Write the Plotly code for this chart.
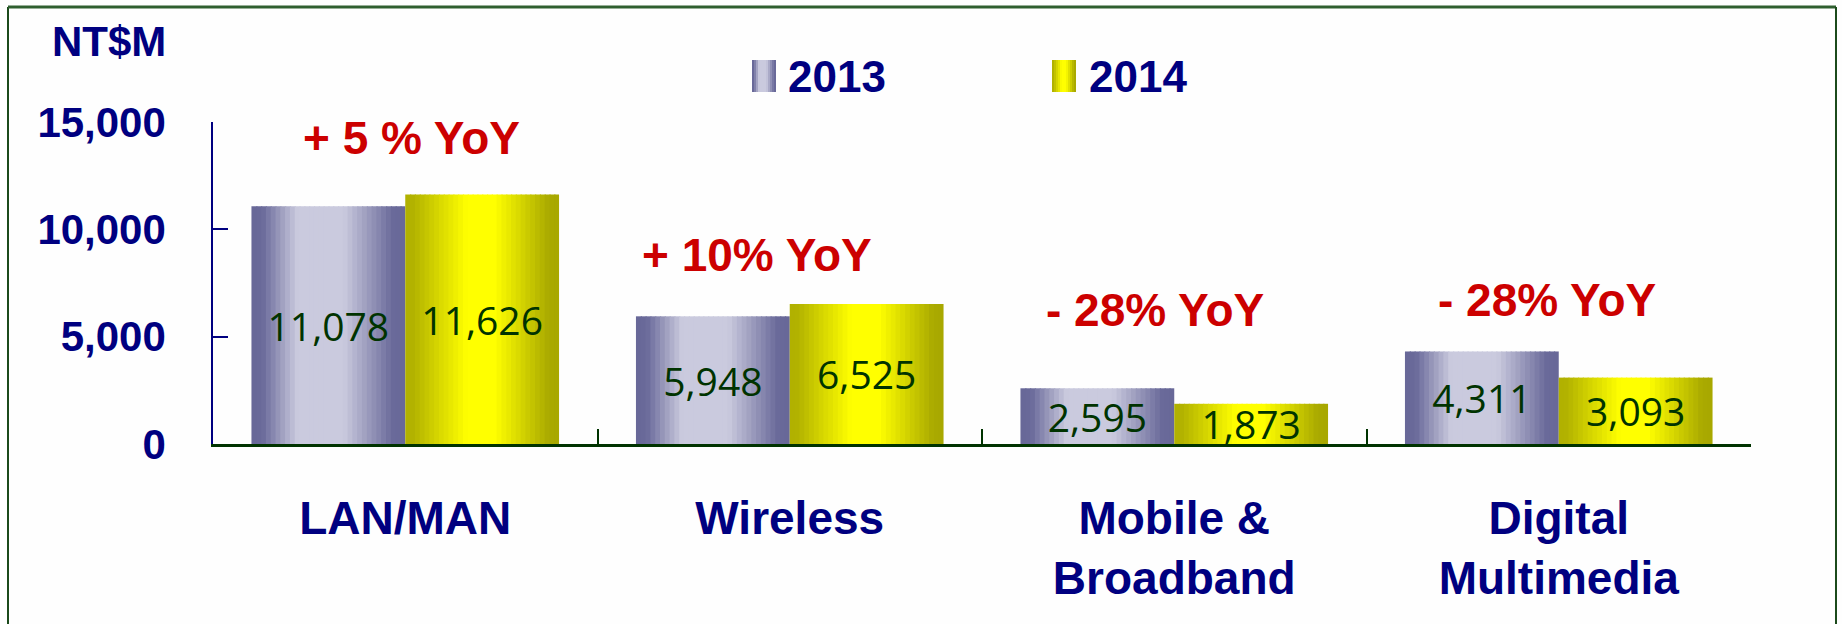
import plotly.graph_objects as go

# ---------------- data ----------------
categories = ["LAN/MAN", "Wireless", "Mobile &<br>Broadband", "Digital<br>Multimedia"]
series_names = ["2013", "2014"]
values_2013 = [11078, 5948, 2595, 4311]
values_2014 = [11626, 6525, 1873, 3093]
yoy_labels = ["+ 5 % YoY", "+ 10% YoY", "- 28% YoY", "- 28% YoY"]
y_tick_values = [0, 5000, 10000, 15000]
y_tick_labels = ["0", "5,000", "10,000", "15,000"]
unit_label = "NT$M"

# ---------------- styles ----------------
W, H = 1842, 624
ML, MR, MT, MB = 213, 91, 122, 180
NAVY = "#000080"
DGREEN = "#003300"
RED = "#CC0000"
BOLD_FONT = "Arial, Liberation Sans, sans-serif"
LABEL_FONT = "Open Sans, Noto Sans, sans-serif"

grad_2013 = [(0.0, (104, 104, 152)), (0.07, (106, 106, 154)), (0.30, (202, 202, 222)),
             (0.60, (202, 202, 222)), (0.92, (106, 106, 154)), (1.0, (104, 104, 152))]
grad_2014 = [(0.0, (176, 176, 0)), (0.05, (178, 178, 0)), (0.40, (255, 255, 0)),
             (0.58, (255, 255, 0)), (0.93, (170, 170, 0)), (1.0, (168, 168, 0))]


def grad_color(stops, t):
    for (t0, c0), (t1, c1) in zip(stops[:-1], stops[1:]):
        if t0 <= t <= t1:
            f = 0 if t1 == t0 else (t - t0) / (t1 - t0)
            c = [round(a + (b - a) * f) for a, b in zip(c0, c1)]
            return "rgb(%d,%d,%d)" % tuple(c)
    return "rgb(%d,%d,%d)" % stops[-1][1]


BAR_W = 0.4      # width of each bar in category units
N_STRIPS = 32    # strips used to imitate the horizontal gradient

fig = go.Figure()
x_idx = list(range(len(categories)))

series = [(series_names[0], values_2013, grad_2013, -BAR_W),
          (series_names[1], values_2014, grad_2014, 0.0)]

for name, vals, stops, base_off in series:
    step = BAR_W / N_STRIPS
    for i in range(N_STRIPS):
        t = (i + 0.5) / N_STRIPS
        w = step * 1.25 if i < N_STRIPS - 1 else step
        fig.add_trace(go.Bar(
            x=x_idx, y=vals, offset=base_off + i * step, width=w,
            marker=dict(color=grad_color(stops, t), line=dict(width=0)),
            showlegend=False, hoverinfo="skip", name=name,
        ))
    # full-width transparent bar carrying the value labels
    fig.add_trace(go.Bar(
        x=x_idx, y=vals, offset=base_off, width=BAR_W, name=name,
        marker=dict(color="rgba(0,0,0,0)", line=dict(width=0)),
        texttemplate="%{y:,.0f}", textposition="inside", insidetextanchor="middle",
        constraintext="none", cliponaxis=False,
        insidetextfont=dict(family=LABEL_FONT, size=39, color=DGREEN),
        showlegend=False, hovertemplate=name + ": %{y:,.0f}<extra></extra>",
    ))

PW = W - ML - MR
PH = H - MT - MB


def px_x(px):
    return (px - ML) / PW


def px_y(py):
    return (H - MB - py) / PH


shapes = []
# outer frame (left, top, right)
shapes.append(dict(type="line", xref="paper", yref="paper", x0=px_x(8), x1=px_x(8),
                   y0=px_y(7), y1=px_y(H + 5), line=dict(color="#1B4A1B", width=2)))
shapes.append(dict(type="line", xref="paper", yref="paper", x0=px_x(8), x1=px_x(1836),
                   y0=px_y(7), y1=px_y(7), line=dict(color="#2F5F2F", width=3)))
shapes.append(dict(type="line", xref="paper", yref="paper", x0=px_x(1836), x1=px_x(1836),
                   y0=px_y(7), y1=px_y(H + 5), line=dict(color="#1B4A1B", width=2)))

# legend swatches (gradient strips)
legend_items = [(series_names[0], grad_2013, 752, 786), (series_names[1], grad_2014, 1052, 1087)]
annotations = []
for name, stops, sx, tx in legend_items:
    n = 12
    sw = 24
    for i in range(n):
        t = (i + 0.5) / n
        shapes.append(dict(type="rect", xref="paper", yref="paper",
                           x0=px_x(sx + i * sw / n), x1=px_x(sx + (i + 1.3) * sw / n if i < n - 1 else sx + sw),
                           y0=px_y(92), y1=px_y(60), line=dict(width=0),
                           fillcolor=grad_color(stops, t)))
    annotations.append(dict(xref="paper", yref="paper", x=px_x(tx), y=px_y(76),
                            xanchor="left", yanchor="middle", showarrow=False, text=name,
                            font=dict(family=BOLD_FONT, size=44, color=NAVY, weight="bold")))

# unit label
annotations.append(dict(xref="paper", yref="paper", x=px_x(109), y=px_y(41),
                        xanchor="center", yanchor="middle", showarrow=False, text=unit_label,
                        font=dict(family=BOLD_FONT, size=42, color=NAVY, weight="bold")))

# YoY annotations (position offsets are layout, not data)
yoy_pos = [(0.016, 14250), (-0.085, 8800), (-0.05, 6230), (-0.03, 6700)]
for i, (lab, (dx, yy)) in enumerate(zip(yoy_labels, yoy_pos)):
    annotations.append(dict(xref="x", yref="y", x=i + dx, y=yy, xanchor="center",
                            yanchor="middle", showarrow=False, text=lab,
                            font=dict(family=BOLD_FONT, size=46, color=RED, weight="bold")))

fig.update_layout(
    width=W, height=H,
    margin=dict(l=ML, r=MR, t=MT, b=MB, pad=0),
    barmode="overlay",
    bargap=0.2,
    paper_bgcolor="#FEFEFE",
    plot_bgcolor="#FEFEFE",
    showlegend=False,
    shapes=shapes,
    annotations=annotations,
    xaxis=dict(
        type="linear", range=[-0.5, 3.5],
        tickvals=x_idx, ticktext=categories,
        showgrid=False, zeroline=False,
        showline=True, linecolor=DGREEN, linewidth=3,
        ticks="", ticklabelstandoff=32,
        tickfont=dict(family=BOLD_FONT, size=46, color=NAVY, weight="bold"),
        fixedrange=True,
    ),
    yaxis=dict(
        range=[0, 15000], tickvals=y_tick_values, ticktext=y_tick_labels,
        showgrid=False, zeroline=False,
        showline=True, linecolor=NAVY, linewidth=1.5,
        ticks="inside", ticklen=15, tickwidth=1.5, tickcolor=NAVY,
        ticklabelstandoff=37,
        tickfont=dict(family=BOLD_FONT, size=42, color=NAVY, weight="bold"),
        fixedrange=True,
    ),
)

# category boundary ticks on the x axis (drawn on a secondary overlaying axis)
fig.update_layout(xaxis2=dict(
    overlaying="x", matches="x", range=[-0.5, 3.5], tickvals=[-0.5, 0.5, 1.5, 2.5, 3.5],
    ticks="inside", ticklen=15, tickwidth=1.5, tickcolor=DGREEN, showticklabels=False,
    showgrid=False, zeroline=False, side="bottom", anchor="y", fixedrange=True,
))
fig.add_trace(go.Scatter(x=[-0.5, 3.5], y=[None, None], xaxis="x2", yaxis="y",
                         showlegend=False, hoverinfo="skip"))

fig.write_html(
    "out.html",
    config={"displayModeBar": False},
    post_script="document.body.style.margin='0';document.body.style.overflow='hidden';",
)
